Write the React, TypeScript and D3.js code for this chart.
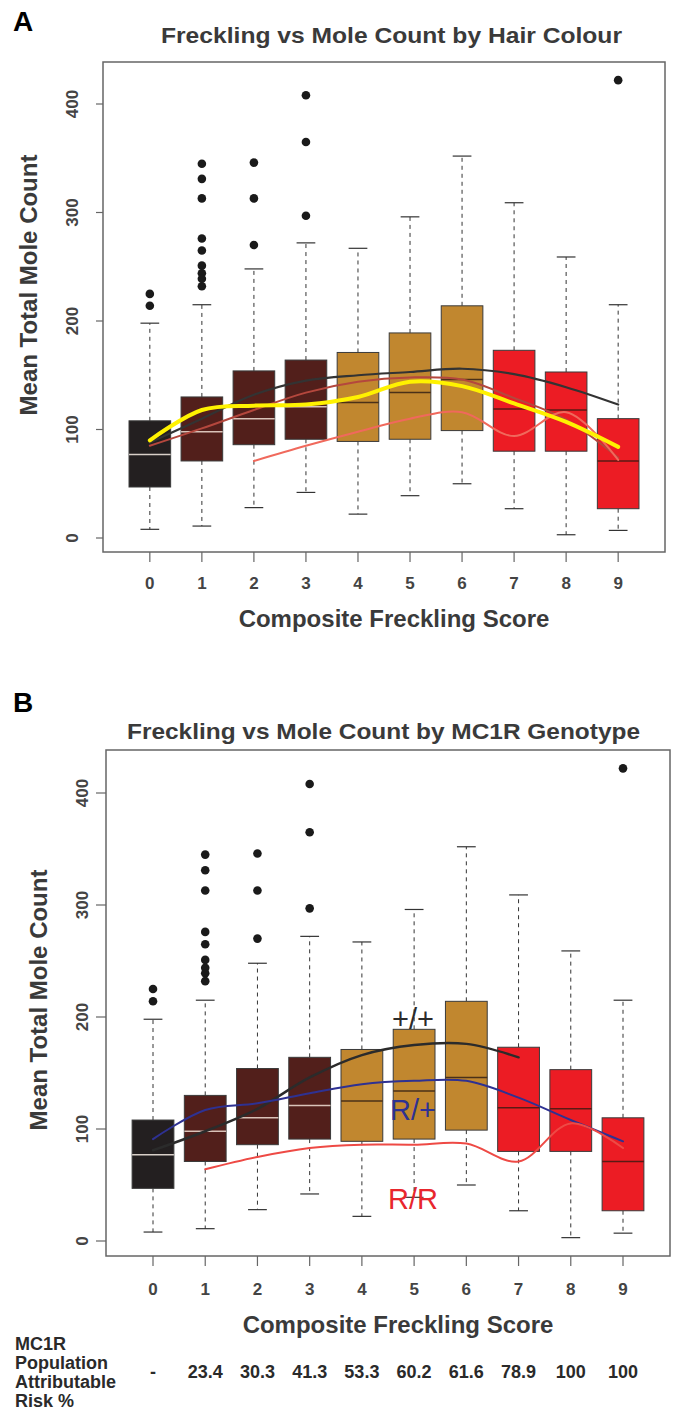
import React, { useEffect } from "react";
import * as d3 from "d3";

// ---------- data ----------
const scores = [0, 1, 2, 3, 4, 5, 6, 7, 8, 9];
const q1 = [47, 71, 86, 91, 89, 91, 99, 80, 80, 27];
const medians = [77, 98, 110, 121, 125, 134, 146, 119, 118, 71];
const q3 = [108, 130, 154, 164, 171, 189, 214, 173, 153, 110];
const whiskerLow = [8, 11, 28, 42, 22, 39, 50, 27, 3, 7];
const whiskerHigh = [198, 215, 248, 272, 267, 296, 352, 309, 259, 215];
const outliers: number[][] = [
  [225, 214],
  [345, 331, 313, 276, 265, 251, 244, 239, 232],
  [346, 313, 270],
  [408, 365, 297],
  [],
  [],
  [],
  [],
  [],
  [422],
];
const boxColors = ["#231f20", "#521f1b", "#521f1b", "#521f1b", "#c1872f", "#c1872f", "#c1872f", "#ec1c24", "#ec1c24", "#ec1c24"];
const medianColors = ["#d8cfc8", "#d9c2b8", "#d9c2b8", "#d9c2b8", "#4a3018", "#4a3018", "#4a3018", "#5a1a14", "#5a1a14", "#5a1a14"];
const yTicks = [0, 100, 200, 300, 400];

// Panel A smooth lines (by hair colour)
const hairBlack = [88, 110, 132, 145, 150, 153, 156, 151, 139, 123];
const hairYellow = [90, 118, 122, 123, 130, 144, 140, 124, 107, 84];
const hairBrown = [85, 101, 118, 134, 144, 148, 146, 129, 109, 74];
const hairRedScores = [2, 3, 4, 5, 6, 7, 8, 9];
const hairRed = [71, 85, 98, 110, 116, 94, 116, 72];

// Panel B smooth lines (by MC1R genotype)
const wtScores = [0, 1, 2, 3, 4, 5, 6, 7];
const wtWt = [81, 98, 118, 146, 166, 175, 176, 164];
const rPlus = [91, 117, 123, 132, 140, 143, 143, 128, 108, 89];
const rrScores = [1, 2, 3, 4, 5, 6, 7, 8, 9];
const rR = [64, 75, 83, 86, 86, 87, 71, 105, 83];

const parLabels = ["-", "23.4", "30.3", "41.3", "53.3", "60.2", "61.6", "78.9", "100", "100"];
const rowLabel = ["MC1R", "Population", "Attributable", "Risk %"];

const FONT = "'Liberation Sans', Arial, Helvetica, sans-serif";

type Series = { xs: number[]; ys: number[]; color: string; width: number };

type PanelProps = {
  letter: string;
  letterY: number;
  title: string;
  titleY: number;
  titleX0: number;
  titleX1: number;
  left: number;
  right: number;
  top: number;
  bottom: number;
  y0px: number;
  y400px: number;
  ytickLen: number;
  ytickLabelX: number;
  ytitleX: number;
  ytitleY: number;
  xtickLabelY: number;
  xtitleY: number;
  series: Series[];
  labels?: { text: string; x: number; y: number; color: string }[];
};

function Panel(p: PanelProps) {
  const x = d3.scaleLinear().domain([-0.9, 9.9]).range([p.left, p.right]);
  const y = d3.scaleLinear().domain([0, 400]).range([p.y0px, p.y400px]);
  const unit = x(1) - x(0);
  const bw = unit * 0.8;
  const cw = unit * 0.36;
  const line = d3
    .line<[number, number]>()
    .x((d) => x(d[0]))
    .y((d) => y(d[1]))
    .curve(d3.curveCatmullRom.alpha(0.5));
  return (
    <g>
      <text x={13} y={p.letterY} fontFamily={FONT} fontWeight="bold" fontSize={28} fill="#000">
        {p.letter}
      </text>
      <text
        x={(p.titleX0 + p.titleX1) / 2}
        y={p.titleY}
        fontFamily={FONT}
        fontWeight="bold"
        fontSize={22}
        fill="#3a3a3a"
        textAnchor="middle"
        textLength={p.titleX1 - p.titleX0}
        lengthAdjust="spacingAndGlyphs"
      >
        {p.title}
      </text>
      {/* boxes */}
      {scores.map((s, i) => {
        const cx = x(s);
        return (
          <g key={s}>
            <line x1={cx} x2={cx} y1={y(q3[i])} y2={y(whiskerHigh[i])} stroke="#333" strokeWidth={1} strokeDasharray="4,4" />
            <line x1={cx} x2={cx} y1={y(q1[i])} y2={y(whiskerLow[i])} stroke="#333" strokeWidth={1} strokeDasharray="4,4" />
            <line x1={cx - cw / 2} x2={cx + cw / 2} y1={y(whiskerHigh[i])} y2={y(whiskerHigh[i])} stroke="#333" strokeWidth={1.2} />
            <line x1={cx - cw / 2} x2={cx + cw / 2} y1={y(whiskerLow[i])} y2={y(whiskerLow[i])} stroke="#333" strokeWidth={1.2} />
            <rect x={cx - bw / 2} y={y(q3[i])} width={bw} height={y(q1[i]) - y(q3[i])} fill={boxColors[i]} stroke="#3a3a3a" strokeWidth={1} />
            <line x1={cx - bw / 2} x2={cx + bw / 2} y1={y(medians[i])} y2={y(medians[i])} stroke={medianColors[i]} strokeWidth={1.5} />
            {outliers[i].map((o, j) => (
              <circle key={j} cx={cx} cy={y(o)} r={4.3} fill="#1a1a1a" />
            ))}
          </g>
        );
      })}
      {/* smooth lines */}
      {p.series.map((s, k) => (
        <path
          key={k}
          d={line(s.xs.map((v, i) => [v, s.ys[i]] as [number, number])) || ""}
          fill="none"
          stroke={s.color}
          strokeWidth={s.width}
          strokeLinecap="round"
          strokeLinejoin="round"
        />
      ))}
      {p.labels?.map((l, k) => (
        <text key={k} x={l.x} y={l.y} fontFamily={FONT} fontSize={29} fill={l.color} textAnchor="middle">
          {l.text}
        </text>
      ))}
      {/* frame */}
      <rect x={p.left} y={p.top} width={p.right - p.left} height={p.bottom - p.top} fill="none" stroke="#666" strokeWidth={1.5} />
      {/* y axis */}
      {yTicks.map((t) => (
        <g key={t}>
          <line x1={p.left - p.ytickLen} x2={p.left} y1={y(t)} y2={y(t)} stroke="#666" strokeWidth={1.2} />
          <text
            transform={`translate(${p.ytickLabelX + 6},${y(t)}) rotate(-90)`}
            fontFamily={FONT}
            fontWeight="bold"
            fontSize={17}
            fill="#444"
            textAnchor="middle"
          >
            {t}
          </text>
        </g>
      ))}
      <text
        transform={`translate(${p.ytitleX + 8.6},${p.ytitleY}) rotate(-90)`}
        fontFamily={FONT}
        fontWeight="bold"
        fontSize={24}
        fill="#3a3a3a"
        textAnchor="middle"
      >
        Mean Total Mole Count
      </text>
      {/* x axis */}
      {scores.map((s) => (
        <g key={s}>
          <line x1={x(s)} x2={x(s)} y1={p.bottom} y2={p.bottom + 10} stroke="#666" strokeWidth={1.2} />
          <text x={x(s)} y={p.xtickLabelY} fontFamily={FONT} fontWeight="bold" fontSize={17} fill="#444" textAnchor="middle">
            {s}
          </text>
        </g>
      ))}
      <text
        x={(p.left + p.right) / 2 + 10}
        y={p.xtitleY}
        fontFamily={FONT}
        fontWeight="bold"
        fontSize={24}
        fill="#3a3a3a"
        textAnchor="middle"
      >
        Composite Freckling Score
      </text>
    </g>
  );
}

export default function App() {
  useEffect(() => {
    document.body.style.margin = "0";
  }, []);

  const xB = d3.scaleLinear().domain([-0.9, 9.9]).range([106, 670]);

  return (
    <svg width={674} height={1410} style={{ display: "block", background: "#fff" }}>
      <Panel
        letter="A"
        letterY={31}
        title="Freckling vs Mole Count by Hair Colour"
        titleY={43}
        titleX0={161}
        titleX1={622}
        left={103}
        right={665}
        top={62}
        bottom={552}
        y0px={538}
        y400px={104}
        ytickLen={7}
        ytickLabelX={72}
        ytitleX={28}
        ytitleY={285}
        xtickLabelY={589}
        xtitleY={627}
        series={[
          { xs: scores, ys: hairBrown, color: "#b4473d", width: 2 },
          { xs: hairRedScores, ys: hairRed, color: "#f0695c", width: 2 },
          { xs: scores, ys: hairBlack, color: "#333333", width: 2.2 },
          { xs: scores, ys: hairYellow, color: "#fff200", width: 4 },
        ]}
      />
      <Panel
        letter="B"
        letterY={712}
        title="Freckling vs Mole Count by MC1R Genotype"
        titleY={739}
        titleX0={127}
        titleX1={640}
        left={106}
        right={670}
        top={750}
        bottom={1256}
        y0px={1241}
        y400px={793}
        ytickLen={10}
        ytickLabelX={82}
        ytitleX={38}
        ytitleY={1000}
        xtickLabelY={1295}
        xtitleY={1333}
        series={[
          { xs: wtScores, ys: wtWt, color: "#2b2b2b", width: 2.5 },
          { xs: scores, ys: rPlus, color: "#2e3192", width: 2 },
          { xs: rrScores, ys: rR, color: "#ee4a45", width: 2 },
        ]}
        labels={[
          { text: "+/+", x: 413, y: 1029, color: "#2b2b2b" },
          { text: "R/+", x: 413, y: 1120, color: "#2e3192" },
          { text: "R/R", x: 413, y: 1209, color: "#e8262d" },
        ]}
      />
      {/* PAR table */}
      {rowLabel.map((t, i) => (
        <text key={t} x={15} y={1350 + i * 19} fontFamily={FONT} fontWeight="bold" fontSize={18} fill="#2a2a2a">
          {t}
        </text>
      ))}
      {parLabels.map((t, i) => (
        <text key={i} x={xB(scores[i])} y={1378} fontFamily={FONT} fontWeight="bold" fontSize={18} fill="#2a2a2a" textAnchor="middle">
          {t}
        </text>
      ))}
    </svg>
  );
}
